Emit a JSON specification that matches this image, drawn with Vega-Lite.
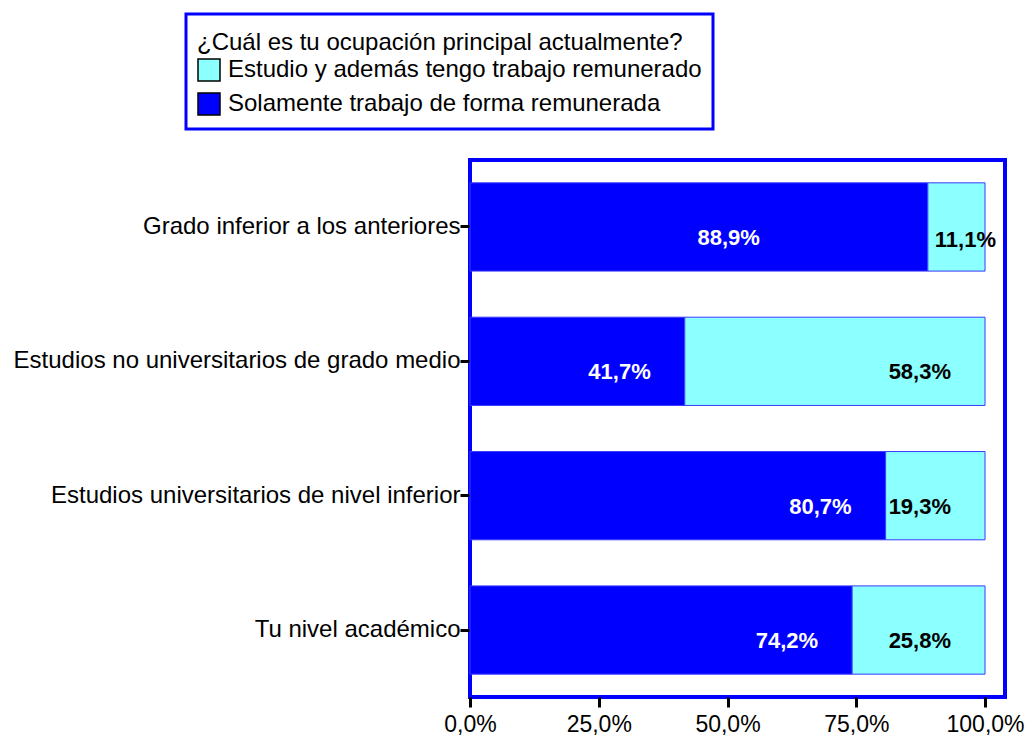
{
  "$schema": "https://vega.github.io/schema/vega-lite/v6.json",
  "width": 535,
  "height": 537,
  "autosize": {"type": "none"},
  "padding": {"left": 470, "top": 160, "right": 23, "bottom": 41},
  "background": "white",
  "data": {
    "values": [
      {"nivel": "Grado inferior a los anteriores", "ocupacion": "Solamente trabajo de forma remunerada", "pct": 0.889},
      {"nivel": "Grado inferior a los anteriores", "ocupacion": "Estudio y además tengo trabajo remunerado", "pct": 0.111},
      {"nivel": "Estudios no universitarios de grado medio", "ocupacion": "Solamente trabajo de forma remunerada", "pct": 0.417},
      {"nivel": "Estudios no universitarios de grado medio", "ocupacion": "Estudio y además tengo trabajo remunerado", "pct": 0.583},
      {"nivel": "Estudios universitarios de nivel inferior", "ocupacion": "Solamente trabajo de forma remunerada", "pct": 0.807},
      {"nivel": "Estudios universitarios de nivel inferior", "ocupacion": "Estudio y además tengo trabajo remunerado", "pct": 0.193},
      {"nivel": "Tu nivel académico", "ocupacion": "Solamente trabajo de forma remunerada", "pct": 0.742},
      {"nivel": "Tu nivel académico", "ocupacion": "Estudio y además tengo trabajo remunerado", "pct": 0.258}
    ]
  },
  "encoding": {
    "y": {
      "field": "nivel",
      "type": "nominal",
      "sort": null,
      "title": null,
      "scale": {"paddingInner": 0.343, "paddingOuter": 0.17},
      "axis": {"tickSize": 10, "tickWidth": 3, "labelPadding": 0, "labelLimit": 600, "labelFontSize": 24}
    },
    "x": {
      "field": "pct",
      "type": "quantitative",
      "stack": "zero",
      "title": null,
      "scale": {"domain": [0, 1.0388], "nice": false, "zero": true},
      "axis": {"values": [0, 0.25, 0.5, 0.75, 1.0], "format": ".1%", "tickSize": 10, "tickWidth": 3, "labelPadding": 6, "labelFlush": false, "labelFontSize": 23}
    },
    "order": {"field": "ocupacion", "sort": "descending"}
  },
  "layer": [
    {
      "mark": {"type": "bar", "stroke": "#3a3aff", "strokeWidth": 1},
      "encoding": {
        "color": {
          "field": "ocupacion",
          "type": "nominal",
          "scale": {
            "domain": ["Estudio y además tengo trabajo remunerado", "Solamente trabajo de forma remunerada"],
            "range": ["#8cffff", "#0000ff"]
          },
          "legend": {
            "title": "¿Cuál es tu ocupación principal actualmente?",
            "orient": "none",
            "legendX": -284,
            "legendY": -146,
            "direction": "vertical",
            "symbolType": "square",
            "symbolSize": 484,
            "symbolStrokeColor": "black",
            "symbolStrokeWidth": 1.5,
            "symbolOpacity": 1,
            "labelFontSize": 24,
            "labelFont": "Liberation Sans",
            "labelColor": "black",
            "labelLimit": 700,
            "labelOffset": 7,
            "titleFontSize": 24,
            "titleFont": "Liberation Sans",
            "titleFontWeight": "normal",
            "titleColor": "black",
            "titleLimit": 700,
            "titleBaseline": "line-top",
            "titleLineHeight": 36,
            "titlePadding": 9,
            "rowPadding": 6,
            "padding": 11,
            "strokeColor": "#0000ff",
            "fillColor": "white"
          }
        }
      }
    },
    {
      "transform": [{"filter": "datum.nivel !== 'Grado inferior a los anteriores'"}],
      "mark": {"type": "text", "align": "right", "baseline": "middle", "dx": -34, "dy": 11, "font": "Liberation Sans", "fontSize": 22, "fontWeight": "bold"},
      "encoding": {
        "text": {"field": "pct", "type": "quantitative", "format": ".1%"},
        "color": {
          "condition": {"test": "datum.ocupacion === 'Solamente trabajo de forma remunerada'", "value": "white"},
          "value": "black"
        }
      }
    },
    {
      "transform": [{"filter": "datum.nivel === 'Grado inferior a los anteriores'"}],
      "mark": {"type": "text", "align": "right", "baseline": "middle", "dx": -168, "dy": 11, "font": "Liberation Sans", "fontSize": 22, "fontWeight": "bold", "color": "white"},
      "encoding": {
        "text": {"field": "pct", "type": "quantitative", "format": ".1%"},
        "opacity": {
          "condition": {"test": "datum.ocupacion === 'Solamente trabajo de forma remunerada'", "value": 1},
          "value": 0
        }
      }
    },
    {
      "transform": [{"filter": "datum.nivel === 'Grado inferior a los anteriores'"}],
      "mark": {"type": "text", "align": "right", "baseline": "middle", "dx": 11, "dy": 13, "font": "Liberation Sans", "fontSize": 22, "fontWeight": "bold", "color": "black"},
      "encoding": {
        "text": {"field": "pct", "type": "quantitative", "format": ".1%"},
        "opacity": {
          "condition": {"test": "datum.ocupacion === 'Estudio y además tengo trabajo remunerado'", "value": 1},
          "value": 0
        }
      }
    }
  ],
  "config": {
    "locale": {
      "number": {"decimal": ",", "thousands": ".", "grouping": [3], "currency": ["", " €"]}
    },
    "view": {"stroke": "#0000ff", "strokeWidth": 4},
    "legend": {"strokeWidth": 3},
    "axis": {
      "grid": false,
      "domain": false,
      "labelFont": "Liberation Sans",
      "labelFontSize": 20,
      "labelColor": "black",
      "tickColor": "black"
    }
  }
}
